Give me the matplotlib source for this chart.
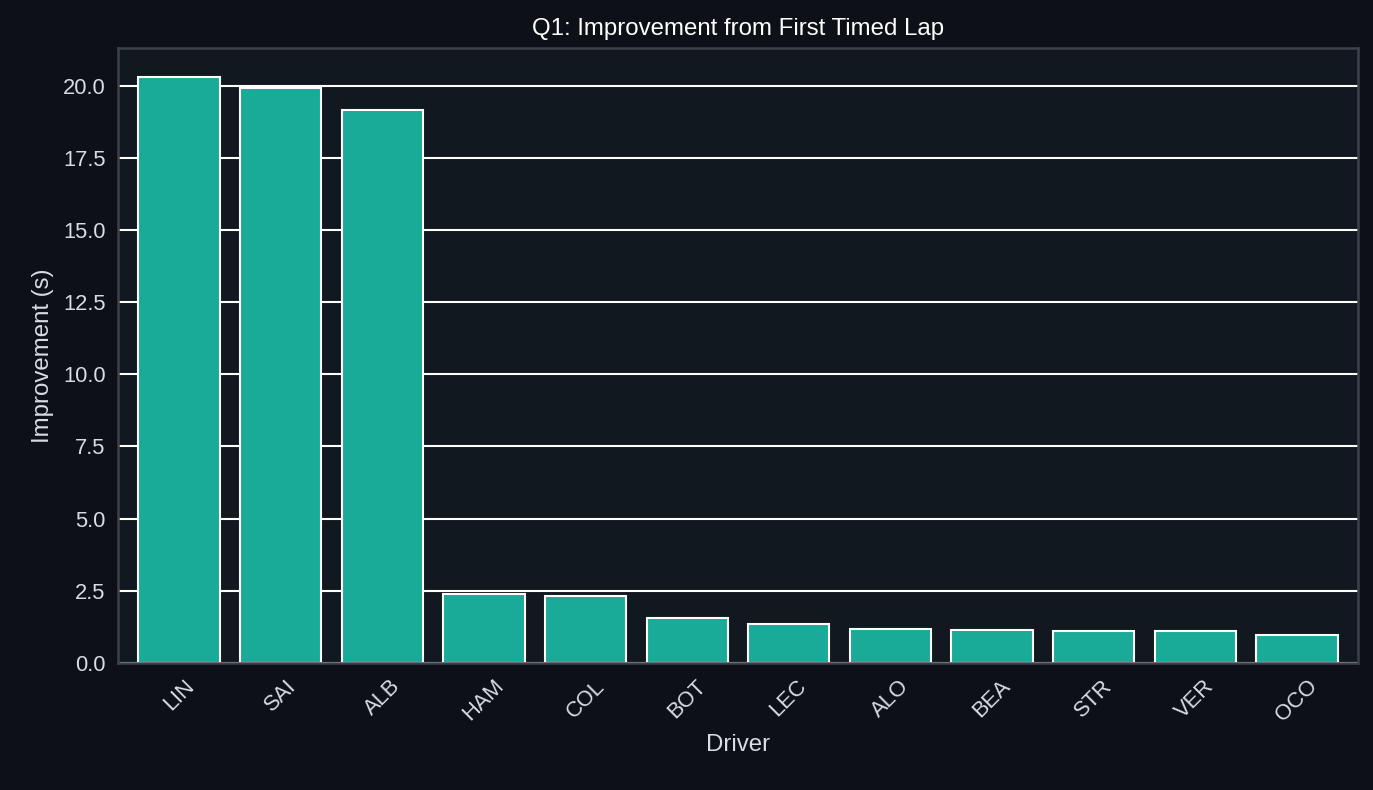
import matplotlib.pyplot as plt

drivers = ["LIN", "SAI", "ALB", "HAM", "COL", "BOT", "LEC", "ALO", "BEA", "STR", "VER", "OCO"]
improvement = [20.3, 19.9, 19.15, 2.38, 2.33, 1.55, 1.35, 1.18, 1.13, 1.1, 1.1, 0.97]

plt.rcParams['font.family'] = ['Liberation Sans', 'DejaVu Sans']

fig = plt.figure(figsize=(1373 / 150, 790 / 150), dpi=150, facecolor="#0d1017")
ax = fig.add_axes([118 / 1373, 1 - 663 / 790, (1358 - 118) / 1373, (663 - 48) / 790])
ax.set_facecolor("#121820")

ax.set_axisbelow(True)
ax.grid(axis="y", color="white", linewidth=1)
ax.bar(range(len(drivers)), improvement, width=0.8, color="#1aab98", edgecolor="white", linewidth=1)

ax.set_xlim(-0.6, len(drivers) - 0.4)
ax.set_ylim(0, 21.3)
ax.set_yticks([0, 2.5, 5, 7.5, 10, 12.5, 15, 17.5, 20])
ax.set_yticklabels([f"{v:.1f}" for v in ax.get_yticks()])
ax.set_xticks(range(len(drivers)))
ax.set_xticklabels(drivers, rotation=45)

for s in ax.spines.values():
    s.set_color("#3c414c")
    s.set_linewidth(1.2)
ax.tick_params(colors="#d8dce3", labelsize=10.5, length=0, pad=6)

ax.set_title("Q1: Improvement from First Timed Lap", color="white", fontsize=11.5, pad=6)
ax.set_xlabel("Driver", color="#d8dce3", fontsize=11.5)
ax.set_ylabel("Improvement (s)", color="#d8dce3", fontsize=11.5)

fig.savefig("out.png", dpi=150, facecolor=fig.get_facecolor())
